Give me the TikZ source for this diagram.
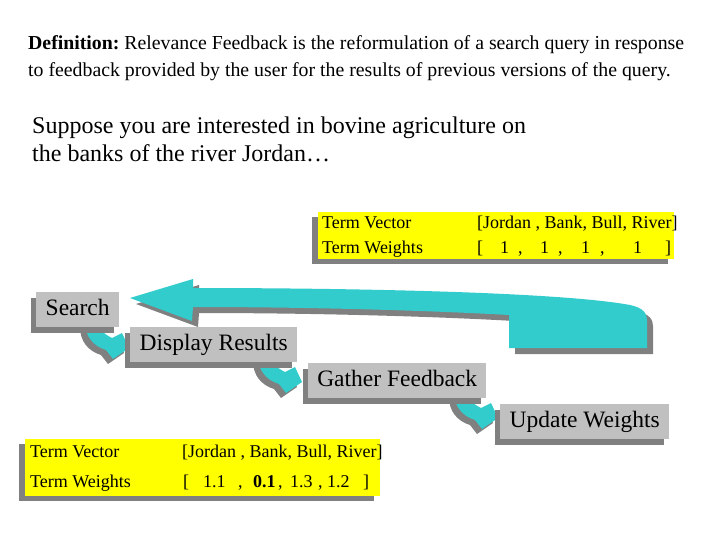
\documentclass[tikz,border=0pt]{standalone}
\usepackage{fontspec}
\setmainfont{Liberation Serif}
\usetikzlibrary{shadows}
\definecolor{tealc}{HTML}{33CCCC}
\definecolor{boxgray}{HTML}{C0C0C0}
\definecolor{shadowgray}{HTML}{808080}
\definecolor{yellowc}{HTML}{FFFF00}
\tikzset{
  stepbox/.style={fill=boxgray, general shadow={fill=shadowgray, shadow xshift=-5pt, shadow yshift=-6pt},
    inner sep=0pt, anchor=north west, minimum height=35pt, text height=17pt, text depth=5pt,
    font=\fontsize{23.5}{28}\selectfont},
  termbox/.style={fill=yellowc, general shadow={fill=shadowgray, shadow xshift=-6pt, shadow yshift=-5pt},
    inner sep=0pt, anchor=north west},
  txt/.style={anchor=base west, inner sep=0pt, font=\fontsize{18}{22}\selectfont},
  deftxt/.style={anchor=base west, inner sep=0pt, font=\fontsize{19.8}{24}\selectfont},
  bigtxt/.style={anchor=base west, inner sep=0pt, font=\fontsize{24}{28}\selectfont},
  bendarrow/.pic={
    \foreach \dx/\dy/\c in {-5/5/shadowgray,0/0/tealc}{
      \fill[\c, shift={(\dx,\dy)}] (0,0) .. controls (0,14) and (8,24) .. (21,28) -- (28,37) -- (44,26)
        -- (37,11) -- (27,16) .. controls (19,12) and (13,7) .. (13,0) -- cycle;
    }
  }
}
\begin{document}
\begin{tikzpicture}[x=1pt,y=-1pt]
\useasboundingbox (0,0) rectangle (720,540);
\fill[white] (0,0) rectangle (720,540);

% definition text
\node[deftxt] (def1) at (28,50) {\textbf{Definition:}\ Relevance Feedback is the reformulation of a search query in response};
\node[deftxt] (def2) at (28,77) {to feedback provided by the user for the results of previous versions of the query.};

\node[bigtxt] (sup1) at (32,134) {Suppose you are interested in bovine agriculture on};
\node[bigtxt] (sup2) at (32,162) {the banks of the river Jordan…};

% top term box
\node[termbox, minimum width=356pt, minimum height=47pt] (tbox) at (318,212) {};
\node[txt] (tv1) at (322,229) {Term Vector};
\node[txt] (tw1) at (322,254) {Term Weights};
\node[txt] (tvv1) at (477,229) {[Jordan , Bank, Bull, River]};
\node[txt] (tww1) at (477,254) {[\hspace{17pt}1\hspace{9pt},\hspace{17.5pt}1\hspace{9pt},\hspace{18.5pt}1\hspace{10pt},\hspace{28.5pt}1\hspace{23pt}]};

% big return arrow
\foreach \dx/\dy/\c in {6/6/shadowgray,0/0/tealc}{
  \fill[\c, shift={(\dx,\dy)}] (130,298) -- (193,279) -- (193,288)
    .. controls (350,288) and (560,292) .. (630,305)
    .. controls (644,308) and (647,314) .. (647,320)
    -- (647,348) -- (509,348) -- (509,315)
    .. controls (420,310) and (300,307) .. (193,307)
    -- (192,321) -- cycle;
}

% small bent arrows
\pic at (85,322) {bendarrow};
\pic at (258,356) {bendarrow};
\pic at (454,392) {bendarrow};

% process boxes
\node[stepbox, minimum width=83pt] (search) at (36,292) {Search};
\node[stepbox, minimum width=167pt] (display) at (130,327) {Display Results};
\node[stepbox, minimum width=178pt] (gather) at (308,363) {Gather Feedback};
\node[stepbox, minimum width=169pt] (update) at (500,404) {Update Weights};

% bottom term box
\node[termbox, minimum width=355pt, minimum height=57pt] (bbox) at (25,439) {};
\node[txt] (tv2) at (30,457) {Term Vector};
\node[txt] (tw2) at (30,487) {Term Weights};
\node[txt] (tvv2) at (182,457) {[Jordan , Bank, Bull, River]};
\node[txt] (tww2) at (183,487) {[\hspace{14pt}1.1\hspace{12.5pt},\hspace{10.5pt}\textbf{0.1}\hspace{2.5pt},\hspace{7.5pt}1.3\hspace{5.5pt},\hspace{4.5pt}1.2\hspace{13.5pt}]};
\end{tikzpicture}
\end{document}
